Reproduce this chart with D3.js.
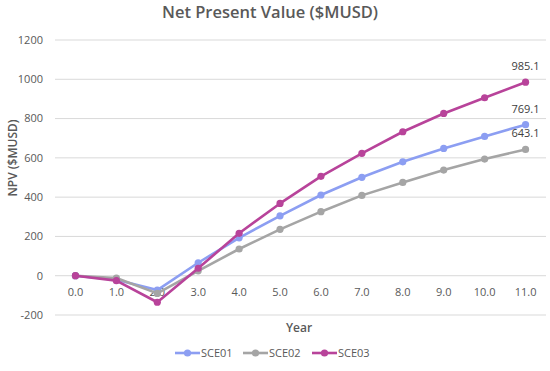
<!DOCTYPE html>
<html>
<head>
<meta charset="utf-8">
<script src="https://cdn.jsdelivr.net/npm/d3@7"></script>
<style>
  body { margin: 0; background: #fff; }
  svg text { font-family: "Open Sans", "Noto Sans", sans-serif; fill: #595959; }
</style>
</head>
<body>
<div id="chart"></div>
<script>
// data
const years = ["0.0", "1.0", "2.0", "3.0", "4.0", "5.0", "6.0", "7.0", "8.0", "9.0", "10.0", "11.0"];
const sce01 = [0, -20, -73, 66, 193, 305, 411, 501, 580, 648, 709, 769.1];
const sce02 = [0, -12, -90, 25, 136, 236, 326, 409, 475, 538, 594, 643.1];
const sce03 = [0, -25, -135, 38, 216, 368, 506, 623, 733, 826, 906, 985.1];
const seriesNames = ["SCE01", "SCE02", "SCE03"];
const yTicks = [-200, 0, 200, 400, 600, 800, 1000, 1200];

const colors = ["#8c9ef2", "#a5a5a5", "#b8439a"];
const seriesData = [sce01, sce02, sce03];

const width = 550, height = 371;
const svg = d3.select("#chart").append("svg")
    .attr("width", width)
    .attr("height", height);

const x = d3.scaleBand()
    .domain(years)
    .range([55, 546])
    .padding(0);

const y = d3.scaleLinear()
    .domain([-200, 1200])
    .range([315, 40]);

// gridlines
svg.append("g")
    .selectAll("line")
    .data(yTicks)
    .join("line")
    .attr("x1", 55)
    .attr("x2", 546)
    .attr("y1", d => y(d))
    .attr("y2", d => y(d))
    .attr("stroke", "#d9d9d9")
    .attr("stroke-width", 1);

// y tick labels
svg.append("g")
    .selectAll("text")
    .data(yTicks)
    .join("text")
    .attr("x", 43)
    .attr("y", d => y(d))
    .attr("dy", "0.35em")
    .attr("text-anchor", "end")
    .style("font-size", "11px")
    .text(d => d);

// x tick labels (sit under the zero line)
svg.append("g")
    .selectAll("text")
    .data(years)
    .join("text")
    .attr("x", d => x(d) + x.bandwidth() / 2)
    .attr("y", y(0) + 16)
    .attr("dy", "0.35em")
    .attr("text-anchor", "middle")
    .style("font-size", "11px")
    .text(d => d);

// title
svg.append("text")
    .attr("x", 270)
    .attr("y", 18)
    .attr("text-anchor", "middle")
    .style("font-size", "16.5px")
    .style("font-weight", "600")
    .text("Net Present Value ($MUSD)");

// axis titles
svg.append("text")
    .attr("transform", "translate(17,158) rotate(-90)")
    .attr("text-anchor", "middle")
    .style("font-size", "12px")
    .style("font-weight", "600")
    .text("NPV ($MUSD)");

svg.append("text")
    .attr("x", 299)
    .attr("y", 332)
    .attr("text-anchor", "middle")
    .style("font-size", "12px")
    .style("font-weight", "600")
    .text("Year");

// series lines + markers
const line = d3.line()
    .x((d, i) => x(years[i]) + x.bandwidth() / 2)
    .y(d => y(d));

seriesData.forEach(function(vals, s){
    svg.append("path")
        .datum(vals)
        .attr("fill", "none")
        .attr("stroke", colors[s])
        .attr("stroke-width", 2.6)
        .attr("stroke-linejoin", "round")
        .attr("d", line);

    svg.append("g")
        .selectAll("circle")
        .data(vals)
        .join("circle")
        .attr("cx", (d, i) => x(years[i]) + x.bandwidth() / 2)
        .attr("cy", d => y(d))
        .attr("r", 3.6)
        .attr("fill", colors[s]);

    // last value label
    const last = vals.length - 1;
    svg.append("text")
        .attr("x", x(years[last]) + x.bandwidth() / 2)
        .attr("y", y(vals[last]) - 12)
        .attr("text-anchor", "middle")
        .style("font-size", "11px")
        .style("fill", "#404040")
        .text(vals[last].toFixed(1));
});

// legend
const legend = svg.append("g").attr("transform", "translate(175,353)");
const itemX = [0, 68, 137];
seriesNames.forEach(function(name, i){
    const g = legend.append("g").attr("transform", "translate(" + itemX[i] + ",0)");
    g.append("line")
        .attr("x1", 0).attr("x2", 25)
        .attr("y1", 0).attr("y2", 0)
        .attr("stroke", colors[i])
        .attr("stroke-width", 2.6);
    g.append("circle")
        .attr("cx", 12.5).attr("cy", 0).attr("r", 3.6)
        .attr("fill", colors[i]);
    g.append("text")
        .attr("x", 26)
        .attr("y", 0)
        .attr("dy", "0.35em")
        .style("font-size", "11px")
        .text(name);
});
</script>
</body>
</html>
